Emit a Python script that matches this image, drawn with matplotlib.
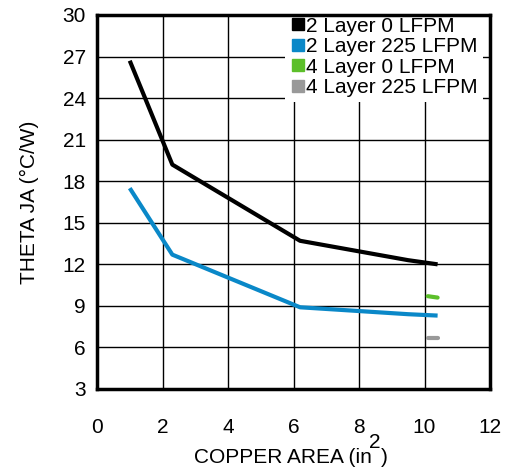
import numpy as np
import matplotlib.pyplot as plt
from matplotlib.lines import Line2D

plt.rcParams['font.family'] = ['Liberation Sans', 'DejaVu Sans']

# copper area (in^2) vs theta JA (C/W)
area_2l = [1.0, 2.3, 6.2, 9.5, 10.4]
theta_2l_0 = [26.7, 19.2, 13.7, 12.3, 12.0]
theta_2l_225 = [17.5, 12.7, 8.9, 8.4, 8.3]
area_4l = [10.1, 10.4]
theta_4l_0 = [9.7, 9.6]
theta_4l_225 = [6.7, 6.7]

labels = ['2 Layer 0 LFPM', '2 Layer 225 LFPM', '4 Layer 0 LFPM', '4 Layer 225 LFPM']
colors = ['#000000', '#0a88c8', '#5cbf2a', '#999999']

fig = plt.figure(figsize=(5.08, 4.72), dpi=100)
ax = fig.add_axes([97/508, 1-389/472, (490-97)/508, (389-15)/472])

ax.plot(area_2l, theta_2l_0, color=colors[0], lw=3, solid_capstyle='butt', zorder=3)
ax.plot(area_2l, theta_2l_225, color=colors[1], lw=3, solid_capstyle='butt', zorder=3)
ax.plot(area_4l, theta_4l_0, color=colors[2], lw=3, solid_capstyle='round', zorder=3)
ax.plot(area_4l, theta_4l_225, color=colors[3], lw=3, solid_capstyle='round', zorder=3)

ax.set_xlim(0, 12)
ax.set_ylim(3, 30)
ax.set_xticks(np.arange(0, 13, 2))
ax.set_yticks(np.arange(3, 31, 3))
ax.grid(True, color='black', lw=1)
ax.tick_params(length=0, labelsize=15)
ax.tick_params(axis='x', pad=21)
ax.tick_params(axis='y', pad=8)
for s in ax.spines.values():
    s.set_linewidth(2.5)

handles = [Line2D([], [], marker='s', ls='none', color=c, markersize=8) for c in colors]
leg = ax.legend(handles, labels, loc='upper right', fontsize=15, frameon=True,
                fancybox=False, framealpha=1, edgecolor='white', handletextpad=0.05,
                labelspacing=0.07, borderpad=0.25, handlelength=0.7,
                bbox_to_anchor=(1.008, 1.037))
leg.get_frame().set_linewidth(0)
leg.set_zorder(2.4)

ax.set_ylabel('THETA JA (°C/W)', fontsize=15, labelpad=17)

fig.text(372/508, 9/472, 'COPPER AREA (in', ha='right', va='baseline', fontsize=15)
fig.text(369/508, 24/472, '2', ha='left', va='baseline', fontsize=15)
fig.text(381/508, 9/472, ')', ha='left', va='baseline', fontsize=15)

fig.savefig('out.png', dpi=100)
